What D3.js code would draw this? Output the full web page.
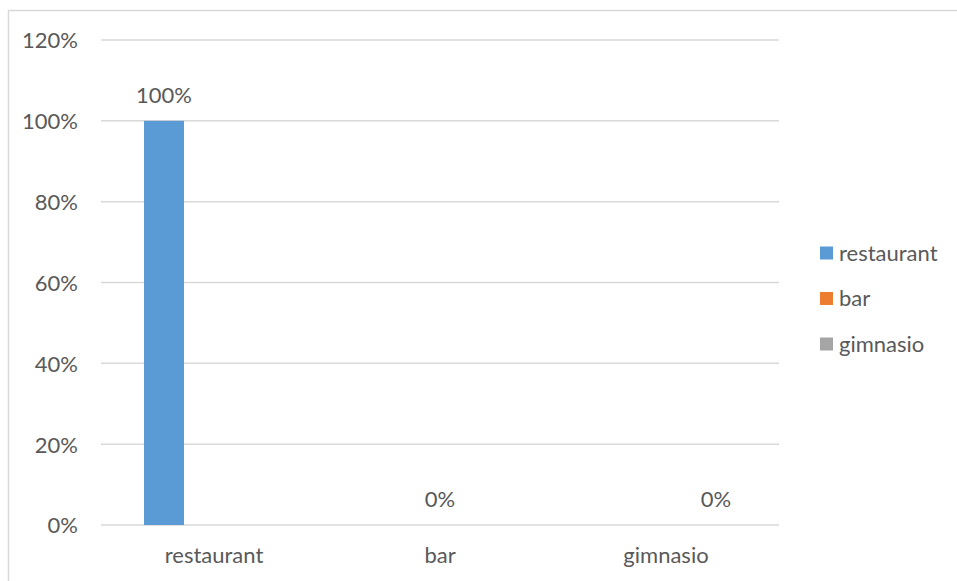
<!DOCTYPE html>
<html>
<head>
<meta charset="utf-8">
<script src="https://cdn.jsdelivr.net/npm/d3@7/dist/d3.min.js"></script>
<style>
  html, body { margin: 0; padding: 0; background: #fff; }
  svg { display: block; }
  text { font-family: Lato, "Open Sans", sans-serif; fill: #595959; }
</style>
</head>
<body>
<svg id="chart" width="957" height="581"></svg>
<script>
// Categories on the x axis and one series per venue type
const categories = ["restaurant", "bar", "gimnasio"];
const seriesNames = ["restaurant", "bar", "gimnasio"];
const restaurantValues = [1, null, null];
const barValues = [null, 0, null];
const gimnasioValues = [null, null, 0];
const seriesColors = ["#5b9bd5", "#ed7d31", "#a5a5a5"];
const yTicks = [0, 0.2, 0.4, 0.6, 0.8, 1.0, 1.2];

const seriesValues = [restaurantValues, barValues, gimnasioValues];

const svg = d3.select("#chart");
const W = 957, H = 581;
const fontSize = 22;

// Outer chart frame
svg.append("rect")
  .attr("x", 8.5).attr("y", 10.5)
  .attr("width", W + 20).attr("height", H + 20)
  .attr("fill", "none").attr("stroke", "#d9d9d9").attr("stroke-width", 1.5);

const plot = { left: 101, right: 779, top: 40, bottom: 525 };

const x0 = d3.scaleBand().domain(categories).range([plot.left, plot.right]).padding(0);
const x1 = d3.scaleBand().domain(seriesNames).range([-75, 75]).paddingInner(0.2).paddingOuter(0.1);
const y = d3.scaleLinear().domain([0, 1.2]).range([plot.bottom, plot.top]);

// Horizontal gridlines
svg.append("g").selectAll("line").data(yTicks).join("line")
  .attr("x1", plot.left).attr("x2", plot.right)
  .attr("y1", d => y(d)).attr("y2", d => y(d))
  .attr("stroke", "#d9d9d9").attr("stroke-width", 1.5);

// Y axis labels
const yAxis = d3.axisLeft(y).tickValues(yTicks).tickFormat(d3.format(".0%")).tickSize(0).tickPadding(0);
const yg = svg.append("g").attr("transform", `translate(78,0)`).call(yAxis);
yg.select(".domain").remove();
yg.selectAll("text").attr("font-size", fontSize).attr("font-family", "Lato, sans-serif").attr("fill", "#595959").attr("dy", "0.36em");

// X axis labels
const xAxis = d3.axisBottom(x0).tickSize(0).tickPadding(0);
const xg = svg.append("g").attr("transform", `translate(0,${plot.bottom})`).call(xAxis);
xg.select(".domain").remove();
xg.selectAll("text").attr("font-size", fontSize).attr("font-family", "Lato, sans-serif").attr("fill", "#595959")
  .attr("dy", null).attr("y", 38);

// Bars and value labels
const points = [];
seriesValues.forEach((vals, si) => {
  vals.forEach((v, ci) => {
    if (v !== null) points.push({ series: seriesNames[si], cat: categories[ci], value: v, color: seriesColors[si] });
  });
});

const cx = d => x0(d.cat) + x0.bandwidth() / 2 + x1(d.series);

svg.append("g").selectAll("rect").data(points).join("rect")
  .attr("x", cx)
  .attr("width", x1.bandwidth())
  .attr("y", d => y(d.value))
  .attr("height", d => y(0) - y(d.value))
  .attr("fill", d => d.color);

svg.append("g").selectAll("text").data(points).join("text")
  .attr("x", d => cx(d) + x1.bandwidth() / 2)
  .attr("y", d => y(d.value) - 18)
  .attr("text-anchor", "middle")
  .attr("font-size", fontSize)
  .text(d => d3.format(".0%")(d.value));

// Legend
const legend = svg.append("g").selectAll("g").data(seriesNames).join("g")
  .attr("transform", (d, i) => `translate(820,${253 + i * 45.5})`);
legend.append("rect")
  .attr("x", 0).attr("y", -6.5).attr("width", 13).attr("height", 13)
  .attr("fill", (d, i) => seriesColors[i]);
legend.append("text")
  .attr("x", 19).attr("y", 0).attr("dy", "0.36em")
  .attr("font-size", fontSize)
  .text(d => d);
</script>
</body>
</html>
